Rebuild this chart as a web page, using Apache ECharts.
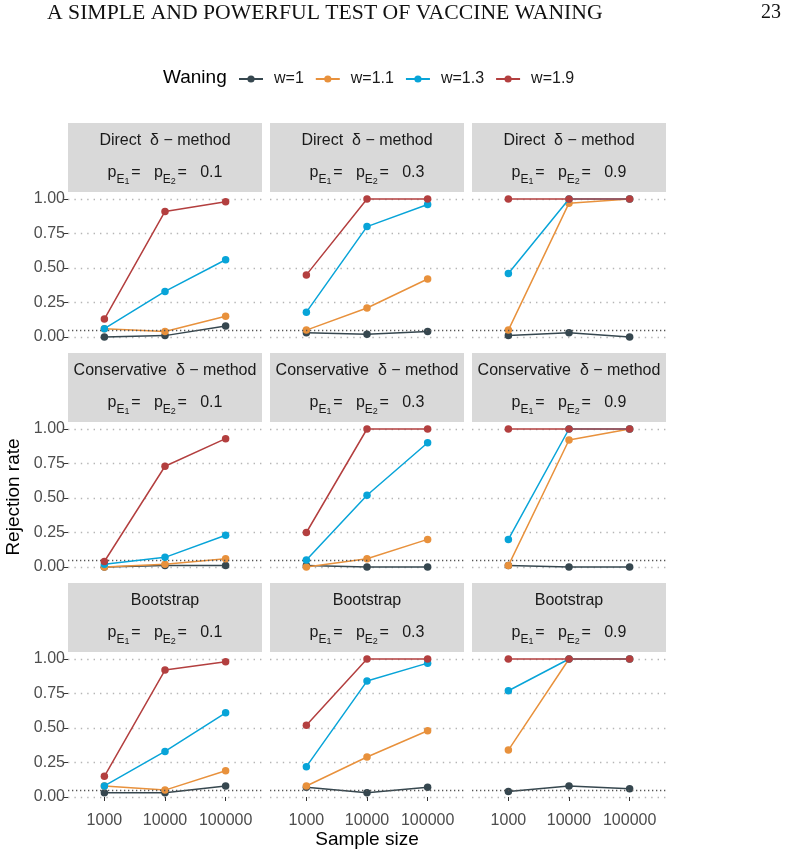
<!DOCTYPE html>
<html>
<head>
<meta charset="utf-8">
<script src="https://cdn.jsdelivr.net/npm/echarts@6/dist/echarts.min.js"></script>
<style>
  html, body { margin: 0; padding: 0; background: #fff; }
  #chart { width: 792px; height: 856px; }
</style>
</head>
<body>
<div id="chart"></div>
<script>
var sampleSizes = ['1000', '10000', '100000'];
var waning = ['w=1', 'w=1.1', 'w=1.3', 'w=1.9'];
var colors = ['#36474f', '#e8913c', '#08a4d8', '#b33f3f'];
var methods = ['Direct  δ − method', 'Conservative  δ − method', 'Bootstrap'];
var pE = ['0.1', '0.3', '0.9'];
var alpha = 0.05;

// rejection rates: rows = waning level, columns = sample size
var direct01 = [[0, 0.01, 0.08], [0.06, 0.04, 0.15], [0.06, 0.33, 0.56], [0.13, 0.91, 0.98]];
var direct03 = [[0.03, 0.02, 0.04], [0.05, 0.21, 0.42], [0.18, 0.80, 0.96], [0.45, 1, 1]];
var direct09 = [[0.01, 0.03, 0], [0.05, 0.97, 1], [0.46, 1, 1], [1, 1, 1]];
var cons01 = [[0, 0.01, 0.01], [0, 0.02, 0.06], [0.02, 0.07, 0.23], [0.04, 0.73, 0.93]];
var cons03 = [[0.01, 0, 0], [0, 0.06, 0.20], [0.05, 0.52, 0.90], [0.25, 1, 1]];
var cons09 = [[0.01, 0, 0], [0.01, 0.92, 1], [0.20, 1, 1], [1, 1, 1]];
var boot01 = [[0.03, 0.03, 0.08], [0.08, 0.05, 0.19], [0.08, 0.33, 0.61], [0.15, 0.92, 0.98]];
var boot03 = [[0.07, 0.03, 0.07], [0.08, 0.29, 0.48], [0.22, 0.84, 0.97], [0.52, 1, 1]];
var boot09 = [[0.04, 0.08, 0.06], [0.34, 1, 1], [0.77, 1, 1], [1, 1, 1]];

var panels = [
  [direct01, direct03, direct09],
  [cons01, cons03, cons09],
  [boot01, boot03, boot09]
];

var font = 'Liberation Sans';
var colLeft = [68, 270, 472];
var panelW = 194;
var stripTop = [123, 353, 583];
var stripH = 69;
var plotH = 138;

var grids = [], xAxes = [], yAxes = [], series = [], graphics = [];

// page header and titles
graphics.push({
  type: 'text', style: {
    text: 'A SIMPLE AND POWERFUL TEST OF VACCINE WANING', x: 47, y: 13,
    fontSize: 21.7, fontFamily: 'Liberation Serif', fill: '#111', verticalAlign: 'middle'
  }
});
graphics.push({
  type: 'text', style: {
    text: '23', x: 781, y: 13, align: 'right',
    fontSize: 20, fontFamily: 'Liberation Serif', fill: '#111', verticalAlign: 'middle'
  }
});
graphics.push({
  type: 'text', style: {
    text: 'Waning', x: 163, y: 78, fontSize: 19, fontFamily: font, fill: '#000', verticalAlign: 'middle'
  }
});
graphics.push({
  type: 'text', style: {
    text: 'Sample size', x: 367, y: 840, align: 'center', verticalAlign: 'middle',
    fontSize: 19, fontFamily: font, fill: '#000'
  }
});
graphics.push({
  type: 'text', x: 14, y: 497, rotation: Math.PI / 2,
  style: {
    text: 'Rejection rate', x: 0, y: 0, align: 'center', verticalAlign: 'middle',
    fontSize: 19, fontFamily: font, fill: '#000'
  }
});

for (var r = 0; r < 3; r++) {
  for (var c = 0; c < 3; c++) {
    var i = r * 3 + c;
    var plotTop = stripTop[r] + stripH + 7;
    grids.push({ left: colLeft[c], top: plotTop, width: panelW, height: plotH });

    // facet strip
    graphics.push({
      type: 'rect', silent: true,
      shape: { x: colLeft[c], y: stripTop[r], width: panelW, height: stripH },
      style: { fill: '#d9d9d9' }
    });
    graphics.push({
      type: 'text', silent: true,
      style: {
        text: methods[r], x: colLeft[c] + panelW / 2, y: stripTop[r] + 18,
        align: 'center', verticalAlign: 'middle', fontSize: 16, fontFamily: font, fill: '#1a1a1a'
      }
    });
    graphics.push({
      type: 'text', silent: true,
      style: {
        text: '{m|p}{e|E}{s|1}{g| }{m|=   }{m|p}{e|E}{s|2}{g| }{m|=   }{m|' + pE[c] + '}',
        x: colLeft[c] + panelW / 2, y: stripTop[r] + 50,
        align: 'center', verticalAlign: 'middle', fill: '#1a1a1a', fontSize: 16, fontFamily: font,
        rich: {
          m: { fontSize: 16, fontFamily: font, lineHeight: 26, verticalAlign: 'middle', fill: '#1a1a1a' },
          e: { fontSize: 12, fontFamily: font, lineHeight: 16, verticalAlign: 'bottom', fill: '#1a1a1a' },
          s: { fontSize: 9, fontFamily: font, lineHeight: 12, verticalAlign: 'bottom', fill: '#1a1a1a' },
          g: { fontSize: 6, fontFamily: font, lineHeight: 10, fill: '#1a1a1a' }
        }
      }
    });

    xAxes.push({
      gridIndex: i, type: 'value', min: 0.4, max: 3.6, position: 'bottom', offset: 7,
      show: r === 2,
      axisLine: { show: false },
      splitLine: { show: false },
      axisTick: { show: true, customValues: [1, 2, 3], length: 4, lineStyle: { color: '#333' } },
      axisLabel: {
        customValues: [1, 2, 3], margin: 9, fontSize: 16, color: '#4d4d4d', fontFamily: font,
        formatter: function (v) { return sampleSizes[Math.round(v) - 1] || ''; }
      }
    });
    yAxes.push({
      gridIndex: i, type: 'value', min: 0, max: 1, interval: 0.25,
      axisLine: { show: false },
      axisTick: { show: c === 0, length: 4, lineStyle: { color: '#333' } },
      axisLabel: {
        show: c === 0, margin: 3, fontSize: 16, color: '#4d4d4d', fontFamily: font,
        formatter: function (v) { return v.toFixed(2); }
      },
      splitLine: { show: true, lineStyle: { color: '#b5b5b5', width: 1.4, type: [1.4, 5] } }
    });

    for (var k = 0; k < waning.length; k++) {
      var s = {
        type: 'line', name: waning[k], xAxisIndex: i, yAxisIndex: i,
        data: panels[r][c][k].map(function (v, j) { return [j + 1, v]; }),
        symbol: 'circle', symbolSize: 7.5, clip: false, animation: false,
        lineStyle: { width: 1.5, color: colors[k] },
        itemStyle: { color: colors[k] },
        z: 3 + k
      };
      if (k === 0) {
        s.markLine = {
          silent: true, symbol: 'none', animation: false,
          label: { show: false },
          lineStyle: { color: '#555', width: 1.3, type: [1.3, 2.7] },
          data: [{ yAxis: alpha }]
        };
      }
      series.push(s);
    }
  }
}

var chart = echarts.init(document.getElementById('chart'));
chart.setOption({
  backgroundColor: '#fff',
  color: colors,
  legend: {
    data: waning, left: 233, top: 66, itemWidth: 24, itemHeight: 9, itemGap: 11,
    formatter: function (name) { return '{g| }' + name; },
    textStyle: {
      fontSize: 16, color: '#1a1a1a', fontFamily: font,
      rich: { g: { width: 6 } }
    }
  },
  grid: grids,
  xAxis: xAxes,
  yAxis: yAxes,
  series: series,
  graphic: graphics
});
</script>
</body>
</html>
